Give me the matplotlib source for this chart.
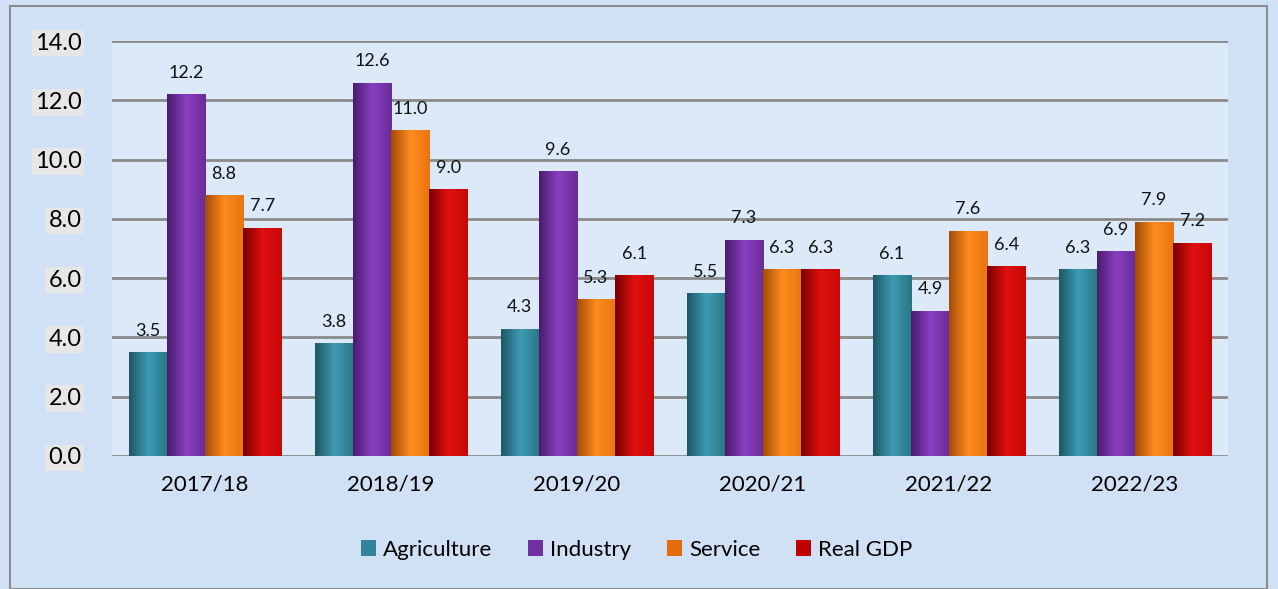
import matplotlib
matplotlib.use("Agg")
import matplotlib.pyplot as plt
import numpy as np
from matplotlib.colors import LinearSegmentedColormap
from matplotlib.patches import Rectangle

years = ["2017/18", "2018/19", "2019/20", "2020/21", "2021/22", "2022/23"]
agriculture = [3.5, 3.8, 4.3, 5.5, 6.1, 6.3]
industry = [12.2, 12.6, 9.6, 7.3, 4.9, 6.9]
service = [8.8, 11.0, 5.3, 6.3, 7.6, 7.9]
real_gdp = [7.7, 9.0, 6.1, 6.3, 6.4, 7.2]

series = [
    ("Agriculture", agriculture, "#31849b", ["#1e5866", "#3d9bb3", "#2a7585"]),
    ("Industry", industry, "#7030a0", ["#4a1c6e", "#8a3fc0", "#6a2c98"]),
    ("Service", service, "#e46c0a", ["#a34c05", "#ff8c1f", "#e87510"]),
    ("Real GDP", real_gdp, "#c00000", ["#7a0000", "#e01010", "#c80808"]),
]

plt.rcParams["font.family"] = ["Lato", "DejaVu Sans"]

fig = plt.figure(figsize=(12.78, 5.89), dpi=100)
fig.patch.set_facecolor("#d0e0f5")
fig.add_artist(Rectangle((10 / 1278, 0), 1257 / 1278, 583 / 589, transform=fig.transFigure,
                         fill=False, edgecolor="#8c8c8c", linewidth=1.5))

ax = fig.add_axes([112 / 1278, 1 - 456 / 589, 1116 / 1278, 415 / 589])
ax.set_facecolor("#dbe9f8")

x = np.arange(len(years))
width = 0.205
offsets = (np.arange(4) - 1.5) * width

grad = np.linspace(0, 1, 64).reshape(1, -1)
for i, (name, vals, col, shades) in enumerate(series):
    bars = ax.bar(x + offsets[i], vals, width, color=col, label=name, zorder=3, linewidth=0)
    cmap = LinearSegmentedColormap.from_list(name, [shades[0], shades[1], shades[2]])
    for b, v in zip(bars, vals):
        x0, w = b.get_x(), b.get_width()
        im = ax.imshow(grad, extent=[x0, x0 + w, 0, v], cmap=cmap, aspect="auto", zorder=4)
        im.set_clip_path(b)
        ax.text(x0 + w / 2, v + 0.45, f"{v:.1f}", ha="center", va="bottom",
                fontsize=13, color="#111111", zorder=5)

ax.set_xlim(-0.5, len(years) - 0.5)
ax.set_ylim(0, 14)
ax.set_yticks(np.arange(0, 14.1, 2))
ax.set_yticklabels([f"{t:.1f}" for t in np.arange(0, 14.1, 2)])
ax.set_xticks(x)
ax.set_xticklabels(years)
ax.grid(axis="y", color="#8a8a8a", linewidth=2, zorder=1)
for s in ax.spines.values():
    s.set_visible(False)
ax.tick_params(axis="both", length=0)
ax.tick_params(axis="x", labelsize=16, pad=13)
ax.tick_params(axis="y", labelsize=17, pad=22)
for lab in ax.get_yticklabels():
    lab.set_bbox(dict(facecolor="#e6e6e6", edgecolor="none", pad=2))

ax.legend(loc="center", bbox_to_anchor=(0.47, -0.226), ncol=4, frameon=False,
          fontsize=16, handlelength=0.7, handleheight=0.7, columnspacing=1.6,
          handletextpad=0.3)

fig.savefig("out.png", dpi=100, facecolor=fig.get_facecolor())
